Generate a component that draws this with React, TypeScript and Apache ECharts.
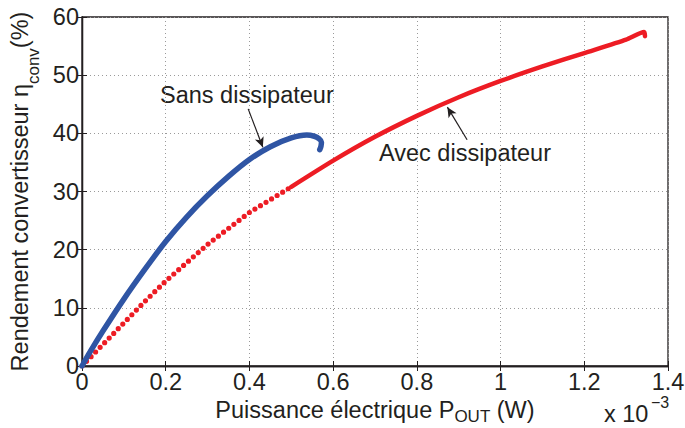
import React, { useEffect, useRef } from "react";
import * as echarts from "echarts";

// x values in units of 1e-3 W, y in %
const sansX = [0, 0.02, 0.05, 0.1, 0.15, 0.2, 0.25, 0.3, 0.35, 0.4, 0.45, 0.5, 0.537, 0.555, 0.566, 0.572, 0.571, 0.568];
const sansY = [0, 2.5, 6.0, 11.5, 16.6, 21.4, 25.6, 29.3, 32.6, 35.5, 37.7, 39.2, 39.7, 39.5, 39.1, 38.5, 37.8, 37.2];
const avecX = [0, 0.05, 0.1, 0.15, 0.2, 0.3, 0.4, 0.5, 0.6, 0.7, 0.8, 0.9, 1.0, 1.1, 1.2, 1.3, 1.343, 1.345];
const avecY = [0, 3.7, 7.4, 11.1, 14.6, 20.9, 26.4, 30.8, 35.3, 39.4, 43.0, 46.2, 49.0, 51.5, 53.8, 56.1, 57.4, 56.7];

const seriesNames = ["Sans dissipateur", "Avec dissipateur"];
const xTicks = { min: 0, max: 1.4, interval: 0.2 };
const yTicks = { min: 0, max: 60, interval: 10 };
// annotation arrows: [from, to] in data coords
const sansArrow = [[0.397, 44.2], [0.432, 37.6]];
const avecArrow = [[0.92, 38.9], [0.873, 44.5]];

const FONT = "'Liberation Sans', Arial, Helvetica, sans-serif";
const INK = "#231f20";
const BLUE = "#2f55a4";
const RED = "#ed1c24";
const FS = 23.5;

export default function App() {
  const ref = useRef<HTMLDivElement>(null);
  useEffect(() => {
    if (!ref.current) return;
    const chart = echarts.init(ref.current, null, { renderer: "svg" });
    const sans = sansX.map((x, i) => [x, sansY[i]]);
    const avec = avecX.map((x, i) => [x, avecY[i]]);
    const split = 0.5;
    const avecDots = avec.filter((p) => p[0] <= split);
    const avecSolid = avec.filter((p) => p[0] >= split);

    const fmtX = (v: number) => String(+v.toFixed(1));
    const baseAxis = {
      axisLine: { show: true, lineStyle: { color: INK, width: 1.3 } },
      axisTick: { show: true, inside: true, length: 5, lineStyle: { color: INK, width: 1 } },
    };

    chart.setOption({
      animation: false,
      textStyle: { fontFamily: FONT },
      grid: {
        left: 82, right: 17, top: 17, bottom: 62,
        outerBoundsMode: "none",
        containLabel: false,
        show: true, borderColor: INK, borderWidth: 1.3, backgroundColor: "#fff",
      },
      xAxis: [
        {
          type: "value", position: "bottom", ...xTicks, ...baseAxis,
          axisLabel: { color: INK, fontSize: FS, fontFamily: FONT, margin: 5, lineHeight: 21, formatter: fmtX, showMaxLabel: true, showMinLabel: true },
          splitLine: { show: true, lineStyle: { color: "#9a9a9a", width: 1, type: [1, 3] } },
          name: "{m|Puissance électrique P}{s|OUT}{m| (W)}",
          nameLocation: "middle",
          nameGap: 16,
          nameTextStyle: {
            color: INK,
            rich: {
              m: { fontSize: FS, fontFamily: FONT, color: INK, lineHeight: 27, verticalAlign: "top" },
              s: { fontSize: 17, fontFamily: FONT, color: INK, lineHeight: 27, verticalAlign: "bottom" },
            },
          },
        },
        { type: "value", position: "top", ...xTicks, ...baseAxis, axisLabel: { show: false }, splitLine: { show: false } },
      ],
      yAxis: [
        {
          type: "value", position: "left", ...yTicks, ...baseAxis,
          axisLabel: { color: INK, fontSize: FS, fontFamily: FONT, margin: 3 },
          splitLine: { show: true, lineStyle: { color: "#9a9a9a", width: 1, type: [1, 3] } },
          name: "{m|Rendement convertisseur η}{s|conv}{m|(%)}",
          nameLocation: "middle",
          nameGap: 44,
          nameTextStyle: {
            color: INK,
            rich: {
              m: { fontSize: FS, fontFamily: FONT, color: INK, lineHeight: 30, verticalAlign: "top" },
              s: { fontSize: 17, fontFamily: FONT, color: INK, lineHeight: 30, verticalAlign: "bottom", padding: [0, 0, -4, 0] },
            },
          },
        },
        { type: "value", position: "right", ...yTicks, ...baseAxis, axisLabel: { show: false }, splitLine: { show: false } },
      ],
      series: [
        {
          name: seriesNames[1] + " (points)",
          type: "line",
          data: avecDots,
          showSymbol: false,
          lineStyle: { color: RED, width: 5.2, type: [0, 6.5], cap: "round" },
          silent: true,
          z: 2,
        },
        {
          name: seriesNames[1],
          type: "line",
          data: avecSolid,
          smooth: 0.2,
          showSymbol: false,
          lineStyle: { color: RED, width: 4.5, cap: "round", join: "round" },
          silent: true,
          z: 2,
          markLine: {
            silent: true,
            symbol: ["none", "arrow"],
            symbolSize: [7, 10],
            label: { show: false },
            lineStyle: { color: INK, width: 1.2, type: "solid" },
            data: [[{ coord: avecArrow[0] }, { coord: avecArrow[1] }]],
          },
        },
        {
          name: seriesNames[0],
          type: "line",
          data: sans,
          smooth: 0.3,
          showSymbol: false,
          lineStyle: { color: BLUE, width: 5.5, cap: "round", join: "round" },
          silent: true,
          z: 3,
          markLine: {
            silent: true,
            symbol: ["none", "arrow"],
            symbolSize: [7, 10],
            label: { show: false },
            lineStyle: { color: INK, width: 1.2, type: "solid" },
            data: [[{ coord: sansArrow[0] }, { coord: sansArrow[1] }]],
          },
        },
      ],
      graphic: [
        { type: "text", left: 160, top: 83, style: { text: seriesNames[0], font: `${FS}px ${FONT}`, fill: INK } },
        { type: "text", left: 379, top: 141, style: { text: seriesNames[1], font: `${FS}px ${FONT}`, fill: INK } },
        { type: "text", left: 604, top: 402, style: { text: "x 10", font: `${FS}px ${FONT}`, fill: INK } },
        { type: "text", left: 651, top: 394, style: { text: "−3", font: `16px ${FONT}`, fill: INK } },
      ],
    });
    return () => chart.dispose();
  }, []);
  return (
    <div
      ref={ref}
      style={{ position: "fixed", left: 0, top: 0, width: 685, height: 428, background: "#fff" }}
    />
  );
}
